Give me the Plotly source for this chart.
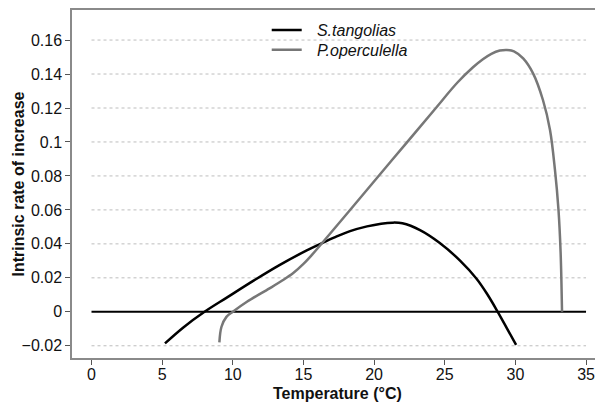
import plotly.graph_objects as go

# S. tangolias (black)
t_st = [5.2, 6.5, 8.0, 9.6, 11.5, 13.3, 15.2, 16.2, 17.2, 18.3, 19.5, 20.5, 21.3,
        22.0, 23.25, 24.65, 26.1, 27.25, 28.0, 28.75, 29.4, 30.05]
r_st = [-0.0186, -0.0092, 0.0, 0.0085, 0.0185, 0.0275, 0.0360, 0.0400, 0.0438,
        0.0475, 0.0503, 0.0519, 0.0525, 0.0521, 0.0481, 0.0405, 0.0300, 0.0195,
        0.0105, 0.0, -0.0097, -0.0195]

# P. operculella (grey)
t_po = [9.05, 9.2, 9.55, 10.0, 11.0, 12.6, 13.5, 14.3, 15.0, 15.6, 16.1, 18.15,
        20.2, 22.25, 24.3, 25.9, 27.0, 27.7, 28.3, 28.9, 29.4, 29.9, 30.55,
        31.25, 31.95, 32.45, 32.8, 33.05, 33.2, 33.3]
r_po = [-0.0180, -0.0088, -0.0030, 0.0, 0.0059, 0.0138, 0.0184, 0.0230, 0.0282,
        0.0335, 0.0383, 0.0585, 0.0788, 0.0990, 0.1193, 0.1350, 0.1440, 0.1487,
        0.1519, 0.1538, 0.1542, 0.1534, 0.1492, 0.1404, 0.1247, 0.1070, 0.0835,
        0.0600, 0.0350, 0.0]

x_ticks = [0, 5, 10, 15, 20, 25, 30, 35]
y_ticks = [-0.02, 0, 0.02, 0.04, 0.06, 0.08, 0.1, 0.12, 0.14, 0.16]
y_labels = ["\u22120.02", "0", "0.02", "0.04", "0.06", "0.08", "0.1", "0.12", "0.14", "0.16"]

FONT = "Liberation Sans, Arial, sans-serif"
PAD = "\u00a0\u00a0\u200a"

fig = go.Figure()

# dotted gridlines from x=0 to x=35
for yv in y_ticks:
    if yv == 0:
        continue
    fig.add_shape(type="line", xref="x", yref="y", x0=x_ticks[0], x1=x_ticks[-1],
                  y0=yv, y1=yv, line=dict(color="#bdbdbd", width=1, dash="dot"),
                  layer="below")
# white legend backdrop (interrupts the top gridline as in the reference)
fig.add_shape(type="rect", xref="paper", yref="paper", x0=0.3503, x1=0.6554,
              y0=0.856, y1=0.975, fillcolor="white", line=dict(width=0), layer="below")
# zero line
fig.add_shape(type="line", xref="x", yref="y", x0=x_ticks[0], x1=x_ticks[-1],
              y0=0, y1=0, line=dict(color="#000000", width=2), layer="below")

fig.add_trace(go.Scatter(x=t_st, y=r_st, mode="lines", name=PAD + "S.tangolias", legend="legend",
                         line=dict(color="#000000", width=2.5, shape="spline", smoothing=1)))
fig.add_trace(go.Scatter(x=t_po, y=r_po, mode="lines", name=PAD + "P.operculella", legend="legend2",
                         line=dict(color="#777777", width=2.5, shape="spline", smoothing=1)))

leg_common = dict(xanchor="left", yanchor="top", bgcolor="rgba(255,255,255,0)", borderwidth=0,
                  itemwidth=30,
                  font=dict(family=FONT, size=16, style="italic", color="#111111"))

fig.update_layout(
    width=595, height=399,
    margin=dict(l=64, r=0, t=2, b=49),
    paper_bgcolor="white", plot_bgcolor="white",
    font=dict(family=FONT, size=16, color="#111111"),
    showlegend=True,
    legend=dict(x=0.3667, y=0.991, **leg_common),
    legend2=dict(x=0.3667, y=0.934, **leg_common),
    xaxis=dict(range=[-1.38, 36.2], tickvals=x_ticks, showgrid=False, zeroline=False,
               showline=True, linecolor="#8a8a8a", linewidth=1.5, mirror=True,
               ticks="outside", ticklen=5, tickcolor="#555555", tickwidth=1.2,
               ticklabelstandoff=-4,
               tickfont=dict(family=FONT, size=16, color="#111111")),
    yaxis=dict(range=[-0.0272, 0.1777], tickvals=y_ticks, ticktext=y_labels,
               showgrid=False, zeroline=False,
               showline=True, linecolor="#8a8a8a", linewidth=1.5,
               ticks="outside", ticklen=5, tickcolor="#555555", tickwidth=1.2,
               tickfont=dict(family=FONT, size=16, color="#111111")),
    annotations=[
        dict(text="<b>Temperature (°C)</b>", xref="paper", yref="paper",
             x=0.5, y=-0.1034, xanchor="center", yanchor="middle", showarrow=False,
             font=dict(family=FONT, size=16, color="#111111")),
        dict(text="<b>Intrinsic rate of increase</b>", xref="paper", yref="paper",
             x=-0.1026, y=0.5, xanchor="center", yanchor="middle", textangle=-90,
             showarrow=False, font=dict(family=FONT, size=16, color="#111111")),
    ],
)

fig.write_html("out.html")
